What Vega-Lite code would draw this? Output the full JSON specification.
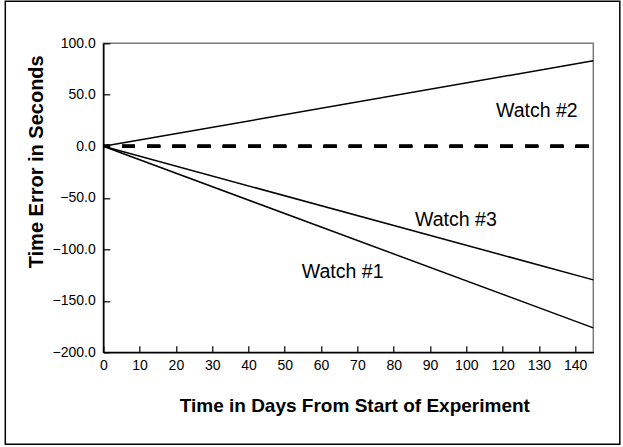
{
  "$schema": "https://vega.github.io/schema/vega-lite/v6.json",
  "width": 490,
  "height": 309,
  "autosize": {"type": "none"},
  "padding": {"left": 103.3, "top": 43.3, "right": 29.7, "bottom": 94.7},
  "background": "white",
  "config": {
    "view": {"stroke": "#7a7a7a", "strokeWidth": 1.5},
    "font": "Liberation Sans"
  },
  "datasets": {
    "lines": [
      {"watch": "Watch #1", "day": 0, "error": 0},
      {"watch": "Watch #1", "day": 135, "error": -176.3},
      {"watch": "Watch #2", "day": 0, "error": 0},
      {"watch": "Watch #2", "day": 135, "error": 83},
      {"watch": "Watch #3", "day": 0, "error": 0},
      {"watch": "Watch #3", "day": 135, "error": -129.7}
    ],
    "labels": [
      {"label": "Watch #2", "day": 108.2, "error": 28.4},
      {"label": "Watch #3", "day": 85.9, "error": -77.1},
      {"label": "Watch #1", "day": 54.7, "error": -127.6}
    ],
    "frame": [{"name": "frame"}]
  },
  "resolve": {"axis": {"x": "independent", "y": "independent"}},
  "layer": [
    {
      "data": {"name": "frame"},
      "mark": {"type": "rect", "fill": null, "filled": false, "stroke": "black", "strokeWidth": 1.5},
      "encoding": {
        "x": {"value": -98},
        "x2": {"value": 516.5},
        "y": {"value": -42},
        "y2": {"value": 401}
      }
    },
    {
      "data": {"name": "lines"},
      "mark": {"type": "line", "color": "black", "strokeWidth": 1.5},
      "encoding": {
        "x": {
          "field": "day",
          "type": "quantitative",
          "scale": {"domain": [0, 135], "nice": false, "zero": false},
          "axis": {
            "orient": "bottom",
            "values": [0, 10, 20, 30, 40, 50, 60, 70, 80, 90, 100, 110, 120, 130],
            "tickCount": 20,
            "labelExpr": "datum.value >= 110 ? format(datum.value + 10, 'd') : format(datum.value, 'd')",
            "grid": false,
            "domainColor": "black",
            "domainWidth": 1.5,
            "ticks": false,
            "tickSize": 0,
            "labelPadding": 6,
            "labelFont": "Liberation Sans",
            "labelFontSize": 14,
            "labelColor": "black",
            "labelFlush": false,
            "labelOverlap": false,
            "title": "Time in Days From Start of Experiment",
            "titleFont": "Liberation Sans",
            "titleFontSize": 19,
            "titleFontWeight": "bold",
            "titleColor": "black",
            "titleX": 251,
            "titleY": 58.7,
            "titleBaseline": "alphabetic",
            "titleAlign": "center"
          }
        },
        "y": {
          "field": "error",
          "type": "quantitative",
          "scale": {"domain": [-200, 100], "nice": false, "zero": false},
          "axis": {
            "orient": "left",
            "values": [-200, -150, -100, -50, 0, 50, 100],
            "tickCount": 20,
            "format": ".1f",
            "grid": false,
            "domainColor": "black",
            "domainWidth": 1.5,
            "ticks": false,
            "tickSize": 0,
            "labelPadding": 8,
            "labelFont": "Liberation Sans",
            "labelFontSize": 14,
            "labelColor": "black",
            "labelFlush": false,
            "labelOverlap": false,
            "title": "Time Error in Seconds",
            "titleFont": "Liberation Sans",
            "titleFontSize": 20,
            "titleFontWeight": "bold",
            "titleColor": "black",
            "titleAngle": 270,
            "titleX": -61,
            "titleY": 118,
            "titleBaseline": "alphabetic",
            "titleAlign": "center"
          }
        },
        "detail": {"field": "watch"}
      }
    },
    {
      "data": {"name": "lines"},
      "mark": {"type": "rule", "color": "black", "strokeWidth": 3, "strokeDash": [13, 12.2], "strokeDashOffset": 20.5},
      "encoding": {"y": {"datum": 0, "axis": null}}
    },
    {
      "data": {"name": "labels"},
      "mark": {"type": "text", "align": "left", "baseline": "alphabetic", "font": "Liberation Sans", "fontSize": 19.5, "color": "black"},
      "encoding": {
        "x": {
          "field": "day",
          "type": "quantitative",
          "axis": {
            "orient": "top",
            "offset": -309,
            "values": [0, 10, 20, 30, 40, 50, 60, 70, 80, 90, 100, 110, 120, 130],
            "tickCount": 20,
            "labels": false,
            "domain": false,
            "grid": false,
            "title": null,
            "ticks": true,
            "tickSize": 6.5,
            "tickWidth": 1.2,
            "tickColor": "black"
          }
        },
        "y": {
          "field": "error",
          "type": "quantitative",
          "axis": {
            "orient": "right",
            "offset": -490,
            "values": [-200, -150, -100, -50, 0, 50, 100],
            "tickCount": 20,
            "labels": false,
            "domain": false,
            "grid": false,
            "title": null,
            "ticks": true,
            "tickSize": 6.5,
            "tickWidth": 1.2,
            "tickColor": "black"
          }
        },
        "text": {"field": "label"}
      }
    }
  ]
}
